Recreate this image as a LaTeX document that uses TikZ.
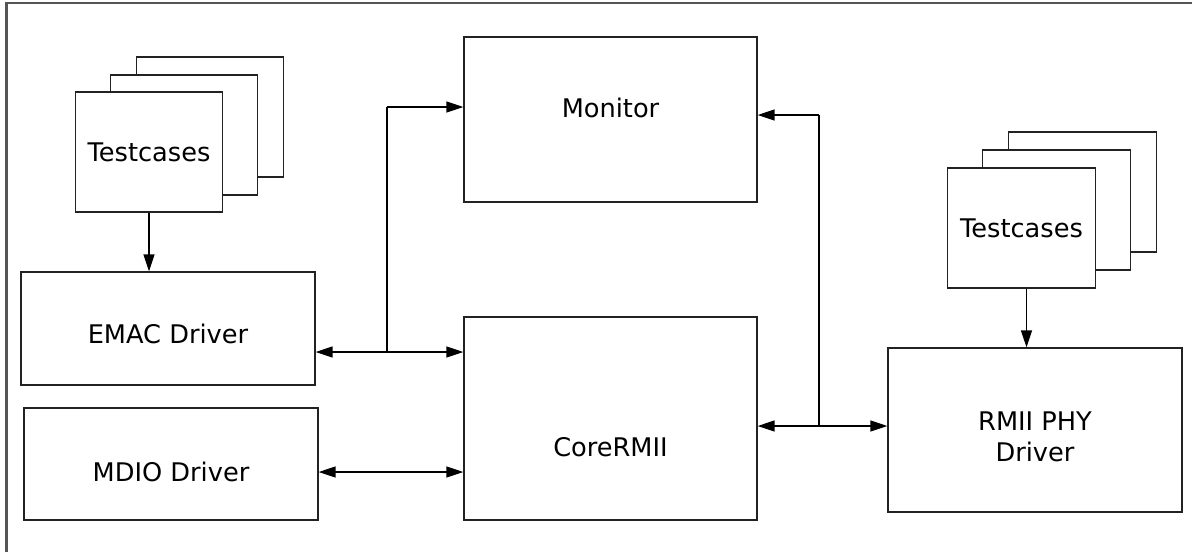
\documentclass[tikz,border=0pt]{standalone}
\usepackage{fontspec}
\setmainfont{DejaVu Sans}
\definecolor{framecol}{HTML}{555555}
\definecolor{boxcol}{HTML}{222222}
\usetikzlibrary{arrows.meta}

\tikzset{
  lbl/.style={font=\fontsize{14.6}{17.5}\selectfont, align=center},
  blockbox/.style={draw=boxcol, line width=0.8pt, fill=white, inner sep=0pt, lbl},
  tcbox/.style={blockbox, minimum width=2.95cm, minimum height=2.4cm},
  drvbox/.style={blockbox, minimum width=5.88cm},
  link/.style={line width=0.8pt, -{Triangle[length=3.4mm, width=2.2mm]}},
  dlink/.style={line width=0.8pt, {Triangle[length=3.4mm, width=2.2mm]}-{Triangle[length=3.4mm, width=2.2mm]}},
  plain/.style={line width=0.8pt}
}

\begin{document}
\begin{tikzpicture}[x=0.02cm, y=-0.02cm]
\useasboundingbox (0,0) rectangle (1192,552);

% === Frame ===
\draw[framecol, line width=1.2pt] (6.5,552) -- (6.5,3) -- (1192,3);

% === PART 1: Left testcases stack ===
\node[tcbox] (tcLback) at (210,117) {};
\node[tcbox] (tcLmid) at (184,135) {};
\node[tcbox] (tcL) at (149,152) {Testcases};

% === PART 2: Drivers on the left ===
\node[drvbox, minimum height=2.26cm,
  label={[lbl, yshift=-0.11cm]center:EMAC Driver}] (emac) at (168,328.5) {};
\node[drvbox, minimum height=2.24cm,
  label={[lbl, yshift=-0.16cm]center:MDIO Driver}] (mdio) at (171,464) {};

% === PART 3: Monitor and core ===
\node[drvbox, minimum width=5.86cm, minimum height=3.3cm,
  label={[lbl, yshift=0.23cm]center:Monitor}] (mon) at (610.5,119.5) {};
\node[drvbox, minimum width=5.86cm, minimum height=4.06cm,
  label={[lbl, yshift=-0.57cm]center:CoreRMII}] (core) at (610.5,418.5) {};

% === PART 4: Right testcases stack and PHY driver ===
\node[tcbox] (tcRback) at (1082.5,192) {};
\node[tcbox] (tcRmid) at (1056.5,210) {};
\node[tcbox] (tcR) at (1021.5,228) {Testcases};
\node[drvbox, minimum height=3.28cm,
  label={[lbl, yshift=-0.14cm]center:RMII PHY\\Driver}] (phy) at (1035,430) {};

% === Connectors ===
\coordinate (jl) at (387,352);
\coordinate (jlm) at (387,107);
\coordinate (jr) at (819,426);
\coordinate (jrm) at (819,115);

\draw[link] (tcL.south) -- (tcL.south |- emac.north);
\draw[link] (tcR.south) ++(0.1cm,0) coordinate (tcRs) -- (tcRs |- phy.north);

\draw[link] (jl) -- (jl -| emac.east);
\draw[link] (jl) -- (jl -| core.west);
\draw[plain] (jl) -- (jlm);
\draw[link] (jlm) -- (jlm -| mon.west);

\draw[dlink] ([yshift=-0.16cm]mdio.east) -- ([yshift=-0.16cm]mdio.east -| core.west);

\draw[link] (jr) -- (jr -| core.east);
\draw[link] (jr) -- (jr -| phy.west);
\draw[plain] (jr) -- (jrm);
\draw[link] (jrm) -- (jrm -| mon.east);

\end{tikzpicture}
\end{document}
